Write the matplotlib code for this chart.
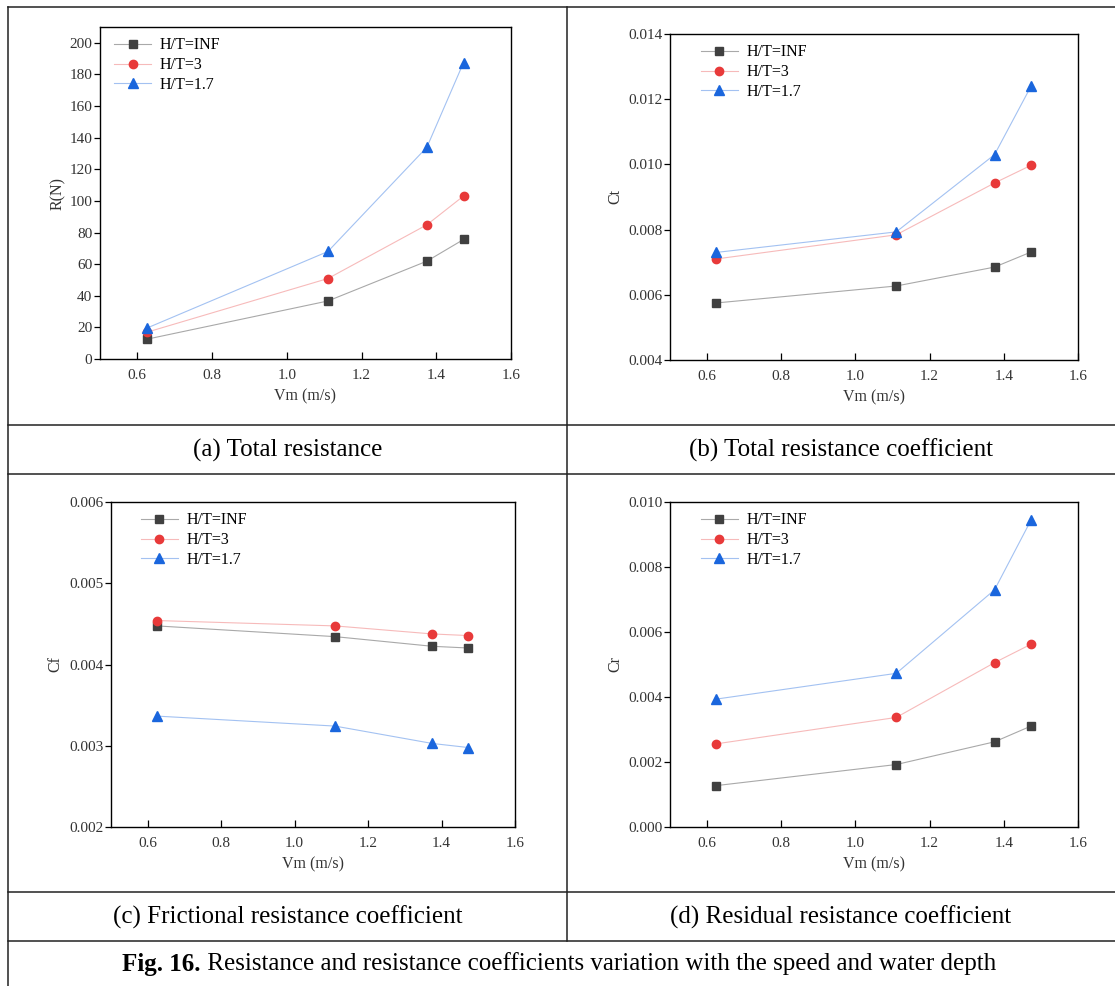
import matplotlib
matplotlib.use("Agg")
import matplotlib.pyplot as plt
from matplotlib.lines import Line2D

plt.rcParams["font.family"] = ["Liberation Serif", "DejaVu Serif"]

# measured speeds (m/s)
speed = [0.625, 1.11, 1.375, 1.473]
series_names = ["H/T=INF", "H/T=3", "H/T=1.7"]

# (a) total resistance R (N)
r_inf = [12.5, 36.7, 61.9, 75.6]
r_h3 = [16.9, 50.9, 84.9, 103.1]
r_h17 = [19.5, 68.0, 134.0, 187.5]

# (b) total resistance coefficient Ct
ct_inf = [0.00575, 0.00627, 0.00685, 0.00731]
ct_h3 = [0.00710, 0.00784, 0.00943, 0.00997]
ct_h17 = [0.00730, 0.00793, 0.01030, 0.01239]

# (c) frictional resistance coefficient Cf
cf_inf = [0.004475, 0.004343, 0.004224, 0.004203]
cf_h3 = [0.004541, 0.004475, 0.004376, 0.004356]
cf_h17 = [0.003365, 0.003242, 0.003028, 0.002978]

# (d) residual resistance coefficient Cr
cr_inf = [0.001274, 0.001922, 0.002621, 0.003104]
cr_h3 = [0.002559, 0.003371, 0.005057, 0.005622]
cr_h17 = [0.003936, 0.004728, 0.007297, 0.009435]

captions = [
    "(a) Total resistance",
    "(b) Total resistance coefficient",
    "(c) Frictional resistance coefficient",
    "(d) Residual resistance coefficient",
]

styles = [
    dict(marker="s", ms=5.2, color=(0.25, 0.25, 0.25, 0.45), mfc="#404040", mec="#404040"),
    dict(marker="o", ms=6.0, color=(0.91, 0.23, 0.23, 0.35), mfc="#e83a3a", mec="#e83a3a"),
    dict(marker="^", ms=6.5, color=(0.10, 0.40, 0.87, 0.40), mfc="#1a66dd", mec="#1a66dd"),
]

W, H = 1115, 986
fig = plt.figure(figsize=(W / 100, H / 100), dpi=100)


def px_axes(x0, y0, x1, y1):
    return fig.add_axes([x0 / W, 1 - y1 / H, (x1 - x0) / W, (y1 - y0) / H])


panels = [
    (px_axes(100, 27, 511, 359), [r_inf, r_h3, r_h17], (0, 210), range(0, 201, 20), "R(N)", "%d",
     -0.083, 0.01),
    (px_axes(670, 34, 1078, 360), [ct_inf, ct_h3, ct_h17], (0.004, 0.014),
     [0.004, 0.006, 0.008, 0.010, 0.012, 0.014], "Ct", "%.3f", -0.115, 0.05),
    (px_axes(111, 502, 515, 827), [cf_inf, cf_h3, cf_h17], (0.002, 0.006),
     [0.002, 0.003, 0.004, 0.005, 0.006], "Cf", "%.3f", -0.119, 0.048),
    (px_axes(670, 502, 1078, 827), [cr_inf, cr_h3, cr_h17], (0.0, 0.010),
     [0.0, 0.002, 0.004, 0.006, 0.008, 0.010], "Cr", "%.3f", -0.115, 0.05),
]

for ax, data, ylim, yticks, ylabel, fmt, ylab_x, leg_x in panels:
    for values, name, st in zip(data, series_names, styles):
        ax.plot(speed, values, lw=0.8, label=name, **st)
    ax.set_xlim(0.5, 1.6)
    ax.set_ylim(*ylim)
    ax.set_xticks([0.6, 0.8, 1.0, 1.2, 1.4, 1.6])
    ax.set_xticklabels(["%.1f" % v for v in [0.6, 0.8, 1.0, 1.2, 1.4, 1.6]])
    ax.set_yticks(list(yticks))
    ax.set_yticklabels([fmt % v for v in yticks])
    ax.tick_params(axis="x", direction="in", length=5, width=0.9, labelsize=11, pad=7,
                   labelcolor="#333333")
    ax.tick_params(axis="y", direction="out", length=4, width=0.9, labelsize=11, pad=1.5,
                   labelcolor="#333333")
    for sp in ax.spines.values():
        sp.set_linewidth(1.0)
    ax.set_xlabel("Vm (m/s)", fontsize=11.5, labelpad=5, color="#333333")
    ax.set_ylabel(ylabel, fontsize=11.5, color="#333333")
    ax.yaxis.set_label_coords(ylab_x, 0.5)
    ax.legend(loc="upper left", bbox_to_anchor=(leg_x, 1.0), frameon=False, fontsize=11.5,
              handlelength=2.3, handletextpad=0.55, labelspacing=0.24, borderpad=0.25,
              borderaxespad=0.4)


# table frame
def hline(y, x0=8, x1=W):
    fig.add_artist(Line2D([x0 / W, x1 / W], [1 - y / H, 1 - y / H], color="#222222", lw=1.1))


def vline(x, y0, y1):
    fig.add_artist(Line2D([x / W, x / W], [1 - y0 / H, 1 - y1 / H], color="#222222", lw=1.1))


for y in [7, 425, 474, 892, 941]:
    hline(y)
vline(8, 7, H)
vline(567, 7, 941)

cap_pos = [(287.5, 450), (841, 450), (287.5, 917), (841, 917)]
for (cx, cy), txt in zip(cap_pos, captions):
    fig.text(cx / W, 1 - cy / H, txt, ha="center", va="center", fontsize=18)

# figure caption: bold prefix + regular text, centred as a whole
renderer = fig.canvas.get_renderer()
bold = fig.text(0, 1 - 964 / H, "Fig. 16.", fontsize=18, fontweight="bold", va="center")
rest = fig.text(0, 1 - 964 / H, " Resistance and resistance coefficients variation with the speed and water depth",
                fontsize=18, va="center")
wb = bold.get_window_extent(renderer).width
wr = rest.get_window_extent(renderer).width
start = 559 - (wb + wr) / 2
bold.set_x(start / W)
rest.set_x((start + wb) / W)

fig.savefig("out.png", dpi=100)
